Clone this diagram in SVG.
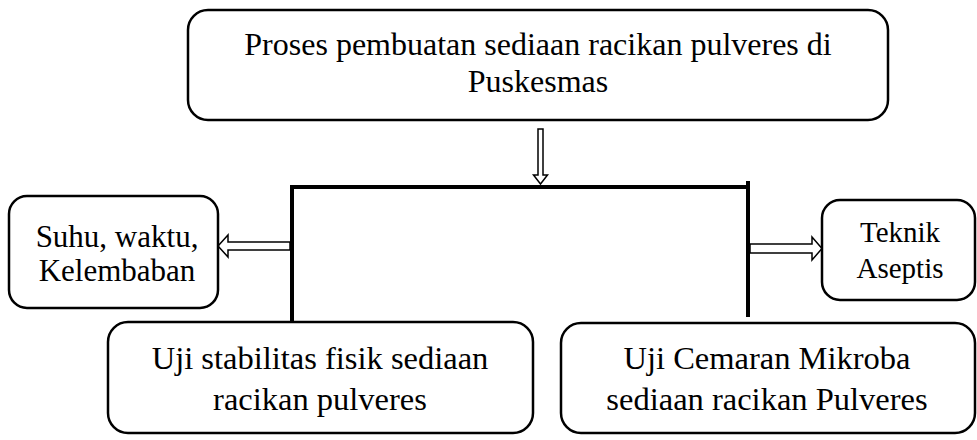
<svg xmlns="http://www.w3.org/2000/svg" width="977" height="440" viewBox="0 0 977 440">
<style>
.box{fill:#fff;stroke:#000;stroke-width:2.5}
.t{font-family:"Liberation Serif","Times New Roman",serif;fill:#000;text-anchor:middle}
.ln{stroke:#000;stroke-width:4;fill:none}
.ar{fill:#fff;stroke:#000;stroke-width:1.5;stroke-linejoin:miter}
</style>
<rect width="977" height="440" fill="#fff"/>
<g id="connectors">
<polygon class="ar" points="538,129 543,129 543,175 547.5,175 540.5,184 533.5,175 538,175"/>
<line class="ln" x1="290" y1="187" x2="750" y2="187"/>
<line class="ln" x1="292" y1="185" x2="292" y2="322"/>
<line class="ln" x1="748" y1="181" x2="748" y2="317"/>
<polygon class="ar" points="290,242 228,242 228,235 218,246 228,257 228,250 290,250"/>
<polygon class="ar" points="750,244 812,244 812,237 822,248.5 812,260 812,253 750,253"/>
</g>
<g id="top">
<rect class="box" x="188" y="10" width="700" height="110" rx="20"/>
<text class="t" font-size="32" x="538" y="55">Proses pembuatan sediaan racikan pulveres di</text>
<text class="t" font-size="32" x="538" y="92">Puskesmas</text>
</g>
<g id="suhu">
<rect class="box" x="9" y="196" width="209" height="112" rx="18"/>
<text class="t" font-size="31" x="117" y="247">Suhu, waktu,</text>
<text class="t" font-size="31" x="117" y="281">Kelembaban</text>
</g>
<g id="teknik">
<rect class="box" x="822" y="200" width="153" height="100" rx="18"/>
<text class="t" font-size="29" x="900" y="242">Teknik</text>
<text class="t" font-size="29" x="900" y="278">Aseptis</text>
</g>
<g id="uji-stabilitas">
<rect class="box" x="108" y="322" width="425" height="111" rx="20"/>
<text class="t" font-size="32.5" x="320" y="369">Uji stabilitas fisik sediaan</text>
<text class="t" font-size="32.5" x="320" y="410">racikan pulveres</text>
</g>
<g id="uji-cemaran">
<rect class="box" x="561" y="323" width="414" height="110" rx="20"/>
<text class="t" font-size="32.5" x="767" y="369">Uji Cemaran Mikroba</text>
<text class="t" font-size="32.5" x="767" y="410">sediaan racikan Pulveres</text>
</g>
</svg>
